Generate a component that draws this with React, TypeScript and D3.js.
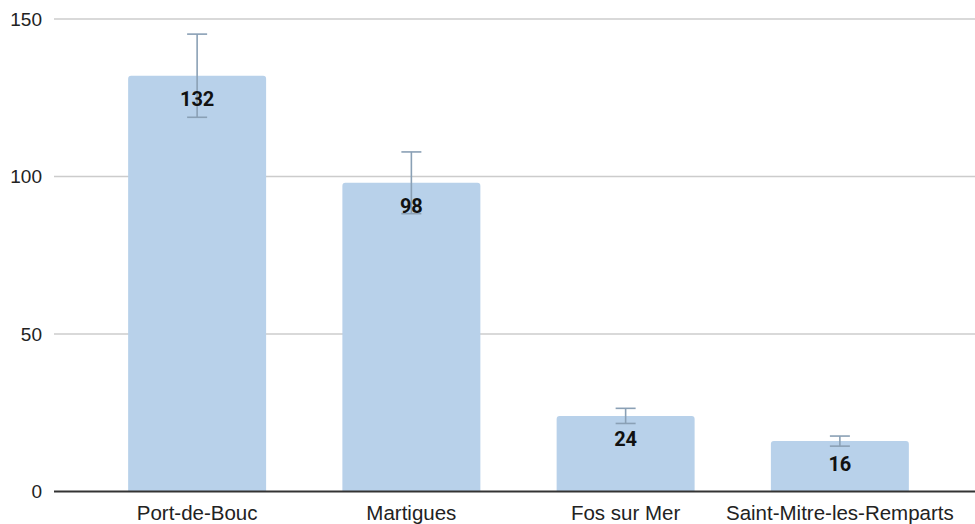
import React from "react";
import * as d3 from "d3";

const categories = ["Port-de-Bouc", "Martigues", "Fos sur Mer", "Saint-Mitre-les-Remparts"];
const values = [132, 98, 24, 16];
const errors = [13.2, 9.8, 2.4, 1.6];
const yTicks = [0, 50, 100, 150];

const W = 975;
const H = 524;

export default function App() {
  const x = d3
    .scaleBand<string>()
    .domain(categories)
    .range([90, 947])
    .paddingInner(0.356)
    .paddingOuter(0.178);
  const y = d3.scaleLinear().domain([0, 150]).range([491.5, 19]);

  const bw = x.bandwidth();
  const r = 3;

  const barPath = (cx: number, v: number) => {
    const x0 = cx;
    const x1 = cx + bw;
    const y0 = y(0);
    const y1 = y(v);
    const p = d3.path();
    p.moveTo(x0, y0);
    p.lineTo(x0, y1 + r);
    p.quadraticCurveTo(x0, y1, x0 + r, y1);
    p.lineTo(x1 - r, y1);
    p.quadraticCurveTo(x1, y1, x1, y1 + r);
    p.lineTo(x1, y0);
    p.closePath();
    return p.toString();
  };

  return (
    <svg
      width={W}
      height={H}
      style={{ position: "absolute", left: 0, top: 0, background: "#fff" }}
    >
      {yTicks.map((t) => (
        <g key={t}>
          {t !== 0 && (
            <line x1={54} x2={975} y1={y(t)} y2={y(t)} stroke="#cccccc" strokeWidth={1.5} />
          )}
          <text
            x={42}
            y={y(t)}
            dy="0.36em"
            textAnchor="end"
            fontFamily="'Liberation Sans', Arial, sans-serif"
            fontSize={19}
            fill="#222"
          >
            {t}
          </text>
        </g>
      ))}
      {categories.map((c, i) => {
        const bx = x(c)!;
        const cx = bx + bw / 2;
        const v = values[i];
        const e = errors[i];
        return (
          <g key={c}>
            <path d={barPath(bx, v)} fill="#b8d1ea" />
            <g stroke="#8aa0b5" strokeWidth={1.6}>
              <line x1={cx} x2={cx} y1={y(v + e)} y2={y(v - e)} />
              <line x1={cx - 10} x2={cx + 10} y1={y(v + e)} y2={y(v + e)} />
              <line x1={cx - 10} x2={cx + 10} y1={y(v - e)} y2={y(v - e)} />
            </g>
            <text
              x={cx}
              y={y(v) + 30}
              textAnchor="middle"
              fontFamily="Roboto, sans-serif"
              fontWeight="bold"
              fontSize={20}
              fill="#111"
            >
              {v}
            </text>
            <text
              x={cx}
              y={520}
              textAnchor="middle"
              fontFamily="'Liberation Sans', Arial, sans-serif"
              fontSize={20.5}
              fill="#222"
            >
              {c}
            </text>
          </g>
        );
      })}
      <line x1={54} x2={975} y1={y(0)} y2={y(0)} stroke="#333" strokeWidth={2} />
    </svg>
  );
}
